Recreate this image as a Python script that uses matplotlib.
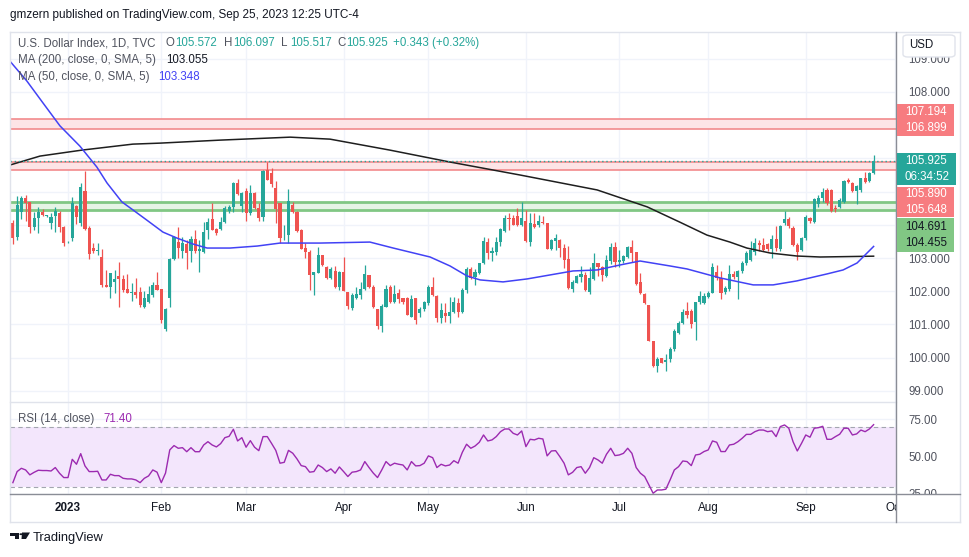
import numpy as np
import pandas as pd
import matplotlib
matplotlib.use("Agg")
from matplotlib import pyplot as plt
from matplotlib.patches import Rectangle, FancyBboxPatch, Polygon, Circle
from matplotlib.lines import Line2D

W, H = 970, 557
plt.rcParams['font.family'] = ['Liberation Sans', 'DejaVu Sans']

# daily candles, TVC:DXY, 2022-12-14 .. 2023-09-25
dates = pd.bdate_range('2022-12-14', '2023-09-25')
axis_dates = pd.bdate_range('2022-12-14', '2023-10-31')

opens = [104.06, 103.64, 104.40, 104.80, 104.70, 103.92, 104.19, 104.39, 104.27, 104.06, 104.28, 104.37, 103.92,
         103.47, 103.61, 104.57, 104.04, 105.02, 103.89, 103.30, 103.20, 103.02, 102.19, 102.14, 102.29, 102.46,
         102.36, 102.08, 101.96, 101.97, 101.97, 101.53, 101.68, 101.89, 102.20, 102.06, 100.85, 101.80, 102.96,
         103.49, 103.22, 103.42, 103.22, 103.56, 103.20, 103.19, 103.84, 104.16, 103.86, 103.88, 104.09, 104.43,
         104.53, 105.25, 104.57, 105.03, 104.35, 104.95, 104.50, 104.25, 105.65, 105.57, 105.12, 104.65, 103.65,
         103.69, 104.60, 104.40, 103.84, 103.29, 103.19, 102.49, 102.56, 103.09, 102.74, 102.39, 102.62, 102.14,
         102.59, 101.99, 101.48, 101.80, 101.89, 102.06, 102.49, 102.14, 101.45, 100.96, 101.53, 102.12, 101.68,
         101.96, 101.80, 101.79, 101.23, 101.79, 101.33, 101.45, 101.63, 102.12, 101.86, 101.18, 101.35, 101.26,
         101.36, 101.63, 101.38, 102.04, 102.68, 102.42, 102.56, 102.84, 103.47, 103.16, 103.19, 103.49, 103.82,
         104.19, 104.19, 104.27, 104.00, 104.11, 103.49, 104.02, 103.98, 104.09, 104.06, 103.26, 103.52, 103.54,
         103.31, 102.96, 102.07, 102.26, 102.42, 102.49, 101.99, 102.36, 102.86, 102.74, 102.46, 102.92, 103.34,
         102.89, 102.92, 103.04, 103.34, 103.19, 102.29, 101.92, 101.58, 100.51, 99.75, 99.98, 99.87, 99.95,
         100.25, 100.75, 101.05, 101.40, 101.40, 101.08, 101.67, 101.64, 101.84, 101.96, 102.57, 102.39, 101.99,
         102.06, 102.53, 102.42, 102.62, 102.84, 102.94, 103.19, 103.44, 103.39, 103.41, 103.26, 103.56, 103.28,
         104.06, 104.17, 103.89, 103.39, 103.24, 103.59, 104.21, 104.09, 104.63, 104.80, 105.05, 105.05, 104.52,
         104.55, 104.70, 105.35, 105.27, 105.02, 105.05, 105.40, 105.32, 105.572]
highs = [104.14, 104.87, 104.87, 104.89, 104.70, 104.40, 104.53, 104.47, 104.30, 104.35, 104.53, 104.42, 103.96,
         103.50, 104.85, 104.60, 105.27, 105.63, 103.95, 103.45, 103.44, 103.27, 102.64, 102.54, 102.64, 102.87,
         102.49, 102.52, 102.24, 102.39, 102.14, 102.02, 102.16, 102.29, 102.57, 102.06, 101.50, 102.99, 103.66,
         103.92, 103.62, 103.54, 103.66, 103.84, 103.54, 104.09, 104.19, 104.67, 103.90, 104.24, 104.57, 104.60,
         105.30, 105.37, 105.00, 105.10, 105.20, 105.00, 104.65, 105.65, 105.88, 105.70, 105.32, 104.65, 103.99,
         105.07, 104.70, 104.42, 103.86, 103.46, 103.24, 102.59, 103.34, 103.10, 102.76, 102.72, 102.76, 102.62,
         103.02, 101.99, 101.95, 102.14, 102.29, 102.79, 102.49, 102.19, 101.45, 101.62, 102.20, 102.19, 102.19,
         102.08, 101.80, 101.84, 101.88, 101.79, 101.51, 101.70, 102.19, 102.42, 101.89, 101.63, 101.63, 101.82,
         101.84, 101.79, 102.09, 102.72, 102.74, 102.66, 102.86, 103.64, 103.59, 103.34, 103.64, 103.91, 104.30,
         104.37, 104.30, 104.50, 104.69, 104.45, 104.37, 104.37, 104.30, 104.27, 104.06, 103.56, 103.72, 103.56,
         103.41, 103.36, 102.34, 102.49, 102.76, 102.59, 102.72, 103.16, 102.86, 102.76, 103.09, 103.44, 103.49,
         103.24, 103.09, 103.36, 103.54, 103.19, 102.56, 101.94, 101.58, 100.51, 100.03, 99.98, 100.11, 100.33,
         100.85, 101.10, 101.45, 101.68, 101.45, 101.68, 102.00, 101.95, 102.00, 102.84, 102.80, 102.62, 102.15,
         102.80, 102.62, 102.65, 102.90, 103.20, 103.50, 103.60, 103.55, 103.60, 103.45, 103.70, 103.95, 104.00,
         104.42, 104.25, 103.95, 103.45, 103.62, 104.30, 104.25, 104.80, 104.90, 105.10, 105.10, 105.08, 104.60,
         104.80, 105.35, 105.40, 105.30, 105.20, 105.42, 105.58, 105.60, 106.097]
lows = [103.42, 103.54, 104.18, 104.12, 103.76, 103.84, 103.74, 104.27, 104.25, 103.86, 103.79, 103.77, 103.36,
        103.45, 103.52, 104.02, 103.96, 103.84, 102.96, 103.15, 103.09, 102.12, 102.12, 101.79, 101.94, 101.53,
        101.99, 101.94, 101.69, 101.79, 101.53, 101.48, 101.63, 101.84, 102.04, 101.03, 100.79, 101.53, 102.94,
        102.99, 102.99, 102.66, 102.89, 103.16, 102.59, 103.14, 103.56, 103.84, 103.70, 103.84, 104.04, 104.35,
        104.40, 104.90, 104.40, 104.10, 104.30, 104.47, 104.10, 104.12, 105.35, 105.15, 104.05, 103.44, 103.54,
        103.46, 104.36, 103.79, 103.26, 102.99, 102.04, 101.90, 102.54, 102.75, 102.37, 102.37, 102.09, 102.04,
        102.00, 101.45, 101.43, 101.78, 101.78, 102.04, 102.09, 101.50, 100.85, 100.78, 101.51, 101.65, 101.65,
        101.63, 101.61, 101.28, 101.21, 101.01, 101.23, 101.40, 101.58, 101.86, 101.08, 101.03, 101.08, 101.05,
        101.33, 101.23, 101.33, 101.94, 102.36, 102.19, 102.52, 102.82, 102.96, 102.92, 103.09, 103.36, 103.79,
        103.84, 103.99, 103.96, 103.96, 103.49, 103.36, 103.91, 103.94, 104.01, 103.26, 103.24, 103.24, 103.04,
        102.69, 102.07, 101.99, 102.24, 102.29, 102.02, 101.92, 102.34, 102.46, 102.32, 102.44, 102.82, 102.74,
        102.74, 102.86, 102.99, 102.89, 102.19, 101.92, 101.61, 100.51, 99.73, 99.58, 99.83, 99.61, 99.88,
        100.20, 100.70, 101.00, 101.20, 100.90, 100.53, 101.60, 101.60, 101.80, 101.94, 102.35, 101.78, 101.92,
        102.00, 102.38, 101.76, 102.55, 102.80, 102.90, 103.10, 103.20, 103.20, 103.20, 103.00, 103.20, 103.20,
        104.00, 103.90, 103.35, 102.95, 103.20, 103.55, 104.05, 104.05, 104.55, 104.70, 104.60, 104.38, 104.40,
        104.50, 104.65, 105.25, 104.98, 104.62, 105.00, 105.25, 105.28, 105.517]
closes = [103.59, 104.60, 104.80, 104.65, 103.94, 104.19, 104.40, 104.29, 104.28, 104.25, 104.43, 103.94, 103.46,
          103.48, 104.67, 104.22, 105.13, 103.87, 103.12, 103.22, 103.25, 102.19, 102.14, 102.54, 102.36, 102.38,
          102.04, 101.96, 101.99, 101.90, 101.57, 101.79, 101.92, 102.20, 102.04, 101.13, 101.45, 102.96, 103.62,
          103.29, 103.46, 103.16, 103.56, 103.22, 103.26, 103.79, 104.09, 103.84, 103.74, 104.09, 104.50, 104.55,
          105.25, 104.93, 104.95, 104.35, 104.95, 104.50, 104.20, 105.62, 105.35, 105.23, 104.47, 103.60, 103.67,
          104.73, 104.40, 103.82, 103.28, 103.19, 102.49, 102.59, 103.09, 102.79, 102.39, 102.67, 102.14, 102.59,
          102.02, 101.54, 101.89, 101.93, 102.06, 102.52, 102.12, 101.51, 100.96, 101.55, 102.06, 101.68, 101.92,
          101.76, 101.66, 101.28, 101.78, 101.13, 101.45, 101.66, 102.12, 101.89, 101.18, 101.43, 101.26, 101.38,
          101.66, 101.36, 102.04, 102.68, 102.39, 102.59, 102.84, 103.51, 103.16, 103.21, 103.49, 103.86, 104.19,
          104.16, 104.00, 104.00, 104.19, 103.51, 104.04, 103.94, 104.12, 104.04, 103.28, 103.54, 103.59, 103.29,
          102.94, 102.11, 102.28, 102.46, 102.52, 102.04, 102.39, 102.86, 102.72, 102.48, 102.94, 103.32, 102.89,
          102.94, 103.06, 103.32, 103.14, 102.22, 101.94, 101.63, 100.51, 99.76, 99.95, 99.85, 99.93, 100.25,
          100.80, 101.05, 101.38, 101.27, 101.00, 101.67, 101.86, 101.86, 101.96, 102.74, 102.39, 101.96, 102.09,
          102.51, 102.44, 102.62, 102.84, 103.14, 103.24, 103.44, 103.39, 103.24, 103.26, 103.56, 103.29, 103.96,
          104.16, 103.96, 103.39, 103.19, 103.59, 104.25, 104.11, 104.77, 104.80, 105.00, 104.67, 104.42, 104.48,
          104.75, 105.32, 105.30, 105.02, 105.17, 105.40, 105.30, 105.57, 105.925]

rsi = [32.6, 40.0, 42.2, 41.1, 37.8, 39.5, 40.9, 40.7, 40.7, 40.4, 42.7, 38.9, 36.0,
       36.0, 48.2, 44.9, 52.0, 43.8, 40.0, 40.0, 40.2, 34.4, 34.4, 38.2, 37.3, 37.3,
       35.5, 35.1, 35.1, 34.4, 32.6, 35.5, 37.1, 41.1, 39.6, 32.6, 39.0, 54.5, 57.4,
       55.6, 56.0, 53.3, 56.0, 53.3, 53.3, 57.8, 60.0, 57.8, 56.5, 58.7, 62.7, 63.6,
       68.3, 60.5, 62.7, 56.3, 60.7, 56.3, 54.0, 63.4, 63.4, 58.9, 54.2, 45.6, 46.2,
       54.2, 52.3, 48.5, 44.0, 43.3, 39.6, 40.0, 44.4, 42.7, 40.0, 41.8, 38.9, 43.1,
       40.0, 36.7, 39.6, 40.0, 41.1, 46.7, 42.7, 39.0, 36.0, 41.1, 46.7, 44.0, 45.6,
       44.9, 44.4, 41.1, 46.7, 43.8, 44.0, 45.6, 50.5, 49.3, 42.7, 44.9, 43.8, 44.4,
       47.3, 45.6, 52.9, 58.3, 55.6, 57.1, 59.6, 64.5, 60.5, 61.2, 63.4, 66.7, 68.5,
       68.5, 65.6, 64.5, 67.2, 56.7, 61.6, 61.2, 62.3, 61.8, 50.5, 53.8, 54.0, 50.0,
       45.6, 37.8, 39.5, 42.7, 43.3, 38.9, 42.7, 49.3, 47.8, 45.6, 51.6, 55.6, 50.7,
       51.1, 52.2, 55.6, 52.2, 42.7, 38.9, 36.7, 31.1, 25.5, 27.7, 27.7, 28.2, 34.4,
       41.1, 43.3, 47.1, 46.7, 44.0, 51.1, 51.6, 53.4, 54.5, 60.5, 59.6, 53.4, 53.4,
       57.8, 58.3, 60.0, 62.3, 64.9, 64.9, 66.7, 67.8, 67.8, 66.7, 67.2, 63.4, 70.1,
       71.2, 69.0, 60.0, 53.8, 58.9, 64.5, 63.0, 69.0, 69.4, 70.3, 61.6, 61.6, 63.4,
       65.0, 69.0, 69.0, 64.5, 65.2, 67.8, 66.7, 68.5, 71.4]

# moving averages (bar position, value)
ma200_pos = [-0.7, 6.4, 16.3, 28.3, 34.7, 48.8, 65.4, 74.8, 88.9, 103.1, 119.6, 137.8, 149.6, 157.3,
             163.7, 169.1, 173.1, 178.6, 184.9, 190.4, 203.0]
ma200_val = [105.80, 106.07, 106.25, 106.43, 106.46, 106.55, 106.64, 106.58, 106.25, 105.89, 105.50, 105.05,
             104.54, 104.08, 103.69, 103.48, 103.30, 103.15, 103.06, 103.03, 103.055]
ma50_pos = [-0.7, 3.3, 7.1, 11.1, 15.8, 19.8, 22.2, 25.7, 28.3, 31.6, 35.4, 38.7, 42.5, 45.8, 51.2, 57.6,
            63.0, 72.4, 84.2, 89.7, 98.4, 103.1, 107.1, 110.2, 115.6, 121.3, 126.7, 132.1, 137.8, 143.2,
            147.9, 155.0, 159.0, 166.8, 174.6, 179.3, 184.9, 192.0, 195.8, 199.1, 203.0]
ma50_val = [108.93, 108.33, 107.67, 106.98, 106.37, 105.74, 105.26, 104.69, 104.45, 104.14, 103.78, 103.60,
            103.42, 103.30, 103.30, 103.36, 103.45, 103.45, 103.48, 103.30, 103.03, 102.76, 102.46, 102.34,
            102.28, 102.37, 102.49, 102.61, 102.64, 102.79, 102.91, 102.76, 102.67, 102.40, 102.19, 102.19,
            102.31, 102.52, 102.64, 102.85, 103.348]

# drawn zones
red_zone_hi = (106.899, 107.194)
red_zone_lo = (105.648, 105.890)
green_zone = (104.455, 104.691)

price_ticks = list(range(99, 110))
hidden_ticks = [104, 105, 106, 107]   # sit under the label boxes on the price scale

TEAL = '#26a69a'
RED = '#ef5350'
GRID = '#f0f3fa'
TXT = '#131722'
GRAY = '#50535e'


def fx(x):
    return x / W


def fy(y):
    return 1 - y / H


fig = plt.figure(figsize=(W / 100, H / 100), dpi=100)
fig.patch.set_facecolor('white')

ax = fig.add_axes([fx(10), fy(402), fx(886), 370 / H])
ax_rsi = fig.add_axes([fx(10), fy(494), fx(886), 92 / H])

x = np.arange(len(dates))
o = np.array(opens)
c = np.array(closes)
colors = np.where(c >= o, TEAL, RED)

# month ticks
month_pos, month_lab = [], []
for i, d in enumerate(axis_dates):
    if d.year == 2023 and (i == 0 or axis_dates[i - 1].month != d.month):
        month_pos.append(i)
        month_lab.append('2023' if d.month == 1 else d.strftime('%b'))

xlim = (-0.68, 208.28)
for a in (ax, ax_rsi):
    a.set_xlim(*xlim)
    a.set_xticks(month_pos)
    a.grid(True, color=GRID, lw=1, zorder=0)
    a.set_axisbelow(True)
    for s in a.spines.values():
        s.set_visible(False)
    a.yaxis.tick_right()
    a.tick_params(length=0, labelsize=8.3, labelcolor=GRAY)
    a.set_facecolor('white')

# main pane
ax.set_ylim(98.663, 109.807)
ax.set_yticks(price_ticks)
ax.set_yticklabels(['' if v in hidden_ticks else '%.3f' % v for v in price_ticks])
ax.tick_params(axis='y', pad=9)
ax.set_xticklabels([])

for lo_, hi_ in (red_zone_hi, red_zone_lo):
    ax.axhspan(lo_, hi_, facecolor='#fde4e6', edgecolor='none', zorder=1)
    ax.axhline(lo_, color='#f28a8c', lw=1.2, zorder=1.2)
    ax.axhline(hi_, color='#f28a8c', lw=1.2, zorder=1.2)
ax.axhspan(green_zone[0], green_zone[1], facecolor='#e6f4e6', edgecolor='none', zorder=1)
ax.axhline(green_zone[0], color='#81c784', lw=2.0, zorder=1.2)
ax.axhline(green_zone[1], color='#81c784', lw=2.0, zorder=1.2)

ax.vlines(x, lows, highs, colors=colors, lw=0.9, zorder=2)
body_h = np.maximum(np.abs(c - o), 0.025)
ax.bar(x, body_h, bottom=np.minimum(o, c), width=0.74, color=colors, zorder=2.1, linewidth=0)

ax.plot(ma200_pos, ma200_val, color='#1e1e1e', lw=1.1, zorder=3)
ax.plot(ma50_pos, ma50_val, color='#4242f5', lw=1.1, zorder=3)
ax.axhline(closes[-1], color=TEAL, lw=1.0, ls=(0, (1, 2)), zorder=3.5)

# rsi pane
ax_rsi.set_ylim(25.07, 86.56)
ax_rsi.set_yticks([25, 50, 75])
ax_rsi.set_yticklabels(['25.00', '50.00', '75.00'])
ax_rsi.tick_params(axis='y', pad=9)
ax_rsi.tick_params(axis='x', pad=6, labelsize=8.4, labelcolor=TXT)
ax_rsi.set_xticklabels(month_lab)
for t in ax_rsi.get_xticklabels():
    if t.get_text() == '2023':
        t.set_fontweight('bold')
ax_rsi.axhspan(30, 70, facecolor='#f3e6fc', edgecolor='none', zorder=0.8)
ax_rsi.axhline(70, color='#a3a6af', lw=0.8, ls=(0, (4, 3)), zorder=1)
ax_rsi.axhline(30, color='#a3a6af', lw=0.8, ls=(0, (4, 3)), zorder=1)
ax_rsi.plot(x, rsi, color='#9c2ab0', lw=1.0, zorder=2)


def put(px, py, s, size=8.3, color=GRAY, **kw):
    fig.text(fx(px), fy(py), s, fontsize=size, color=color, va='center', **kw)


# header and legends
put(10, 15, 'gmzern published on TradingView.com, Sep 25, 2023 12:25 UTC-4', size=8.5, color=TXT)
put(18, 43, 'U.S. Dollar Index, 1D, TVC')
for px, lab, val in ((166, 'O', opens[-1]), (224, 'H', highs[-1]), (281, 'L', lows[-1]), (337, 'C', closes[-1])):
    put(px, 43, lab)
    put(px + 9, 43, '%.3f' % val, color=TEAL)
put(393, 43, '+0.343 (+0.32%)', color=TEAL)
put(18, 60, 'MA (200, close, 0, SMA, 5)')
put(166, 60, '%.3f' % ma200_val[-1], color=TXT)
put(18, 77, 'MA (50, close, 0, SMA, 5)')
put(158, 77, '%.3f' % ma50_val[-1], color='#4242f5')
put(18, 419, 'RSI (14, close)')
put(103, 419, '%.2f' % rsi[-1], color='#9c2ab0')

# white cover for clipped axis text in the corner
fig.add_artist(Rectangle((fx(897), fy(521)), fx(62), 26 / H, transform=fig.transFigure,
                         facecolor='white', edgecolor='none', zorder=4))

# frame lines
frame = '#e0e3eb'
for (x0, y0, x1, y1, col) in ((10, 32, 960, 32, frame), (10, 522, 960, 522, frame),
                               (10, 32, 10, 522, frame), (960, 32, 960, 522, frame),
                               (10, 402, 896, 402, frame),
                               (10, 494, 960, 494, '#8a8d96'), (896, 32, 896, 522, '#8a8d96')):
    fig.add_artist(Line2D([fx(x0), fx(x1)], [fy(y0), fy(y1)], transform=fig.transFigure,
                          color=col, lw=1, zorder=5))

# price scale labels
boxes = [((104, 136), '#f77c80', 'white', ['%.3f' % red_zone_hi[1], '%.3f' % red_zone_hi[0]], 57),
         ((153, 185), TEAL, 'white', ['%.3f' % closes[-1], '06:34:52'], 59),
         ((187, 217), '#f77c80', 'white', ['%.3f' % red_zone_lo[1], '%.3f' % red_zone_lo[0]], 57),
         ((218, 252), '#81c784', TXT, ['%.3f' % green_zone[1], '%.3f' % green_zone[0]], 57)]
for (y0, y1), fc, tc, labs, w in boxes:
    fig.add_artist(Rectangle((fx(897), fy(y1)), fx(w), (y1 - y0) / H, transform=fig.transFigure,
                             facecolor=fc, edgecolor='none', zorder=6))
    ym = (y0 + y1) / 2
    for k, s in enumerate(labs):
        fig.text(fx(905), fy(ym - 8 + 16 * k), s, fontsize=8.3, color=tc, va='center', zorder=7)

# USD button
fig.add_artist(FancyBboxPatch((fx(903), fy(57)), fx(52), 22 / H, boxstyle='round,pad=0,rounding_size=0.005',
                              transform=fig.transFigure, facecolor='white', edgecolor='#e0e3eb',
                              lw=1, zorder=6))
fig.text(fx(909), fy(45), 'USD', fontsize=8.3, color=TXT, va='center', zorder=7)

# TradingView logo
logo = '#131722'
fig.add_artist(Rectangle((fx(10), fy(535.5)), fx(9), 3 / H, transform=fig.transFigure,
                         facecolor=logo, edgecolor='none', zorder=6))
fig.add_artist(Rectangle((fx(15), fy(539)), fx(4), 6.5 / H, transform=fig.transFigure,
                         facecolor=logo, edgecolor='none', zorder=6))
fig.add_artist(Polygon([(fx(22), fy(532.5)), (fx(30), fy(532.5)), (fx(26), fy(539)), (fx(21.5), fy(539))],
                       closed=True, transform=fig.transFigure, facecolor=logo, edgecolor='none', zorder=6))
fig.add_artist(Circle((fx(21), fy(534.2)), 1.6 / W, transform=fig.transFigure, facecolor=logo,
                      edgecolor='none', zorder=6))
fig.text(fx(33), fy(538), 'TradingView', fontsize=9.3, color=TXT, va='center')

fig.savefig('out.png', dpi=100)
